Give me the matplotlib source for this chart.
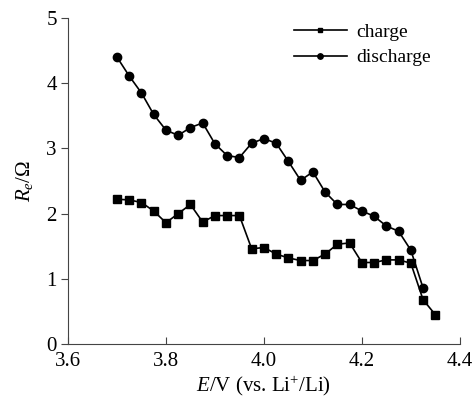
import matplotlib
matplotlib.use("Agg")
import matplotlib.pyplot as plt
import numpy as np

plt.rcParams['font.family'] = ['Liberation Serif', 'DejaVu Serif']
plt.rcParams['mathtext.fontset'] = 'custom'
plt.rcParams['mathtext.rm'] = 'Liberation Serif'
plt.rcParams['mathtext.it'] = 'Liberation Serif:italic'
plt.rcParams['mathtext.bf'] = 'Liberation Serif:bold'

# charge: 3.700 .. 4.350 V
charge_E = [3.700, 3.725, 3.750, 3.775, 3.800, 3.825, 3.850, 3.875, 3.900, 3.925,
            3.950, 3.975, 4.000, 4.025, 4.050, 4.075, 4.100, 4.125, 4.150, 4.175,
            4.200, 4.225, 4.250, 4.275, 4.300, 4.325, 4.350]
charge_R = [2.22, 2.21, 2.17, 2.04, 1.86, 2.00, 2.14, 1.87, 1.97, 1.97,
            1.97, 1.46, 1.48, 1.38, 1.32, 1.28, 1.28, 1.38, 1.53, 1.55,
            1.25, 1.25, 1.29, 1.29, 1.24, 0.68, 0.45]

# discharge: 3.700 .. 4.325 V
dis_E = [3.700, 3.725, 3.750, 3.775, 3.800, 3.825, 3.850, 3.875, 3.900, 3.925,
         3.950, 3.975, 4.000, 4.025, 4.050, 4.075, 4.100, 4.125, 4.150, 4.175,
         4.200, 4.225, 4.250, 4.275, 4.300, 4.325]
dis_R = [4.40, 4.11, 3.85, 3.52, 3.28, 3.20, 3.32, 3.39, 3.07, 2.89,
         2.86, 3.08, 3.15, 3.08, 2.80, 2.51, 2.64, 2.33, 2.14, 2.14,
         2.04, 1.96, 1.81, 1.73, 1.44, 0.86]

fig = plt.figure(figsize=(4.74, 4.0), dpi=100)
ax = fig.add_axes([0.1435, 0.14, 0.8265, 0.815])

ax.plot(charge_E, charge_R, color="black", lw=1.2, marker="s", ms=5.5, label="charge")
ax.plot(dis_E, dis_R, color="black", lw=1.2, marker="o", ms=6, label="discharge")

ax.set_xlim(3.6, 4.4)
ax.set_ylim(0, 5)
ax.set_xticks([3.6, 3.8, 4.0, 4.2, 4.4])
ax.set_xticklabels(["3.6", "3.8", "4.0", "4.2", "4.4"])
ax.set_yticks([0, 1, 2, 3, 4, 5])
ax.spines['top'].set_visible(False)
ax.spines['right'].set_visible(False)
ax.spines['left'].set_color('#444444')
ax.spines['bottom'].set_color('#444444')
ax.tick_params(axis='x', direction='in', length=5, labelsize=15, pad=6, color='#444444')
ax.tick_params(axis='y', direction='out', length=5, labelsize=15, pad=3, color='#444444')

ax.set_xlabel(r"$E$/V (vs. Li$^{+}$/Li)", fontsize=15, labelpad=2)
ax.set_ylabel(r"$R_e/\Omega$", fontsize=15, labelpad=8)

leg = ax.legend(loc="upper left", bbox_to_anchor=(294 / 474, 377 / 400),
                bbox_transform=fig.transFigure, frameon=False, borderpad=0,
                borderaxespad=0, fontsize=14, markerscale=0.65, handlelength=2.7,
                handletextpad=0.5, labelspacing=0.42)

fig.savefig("out.png", dpi=100)
